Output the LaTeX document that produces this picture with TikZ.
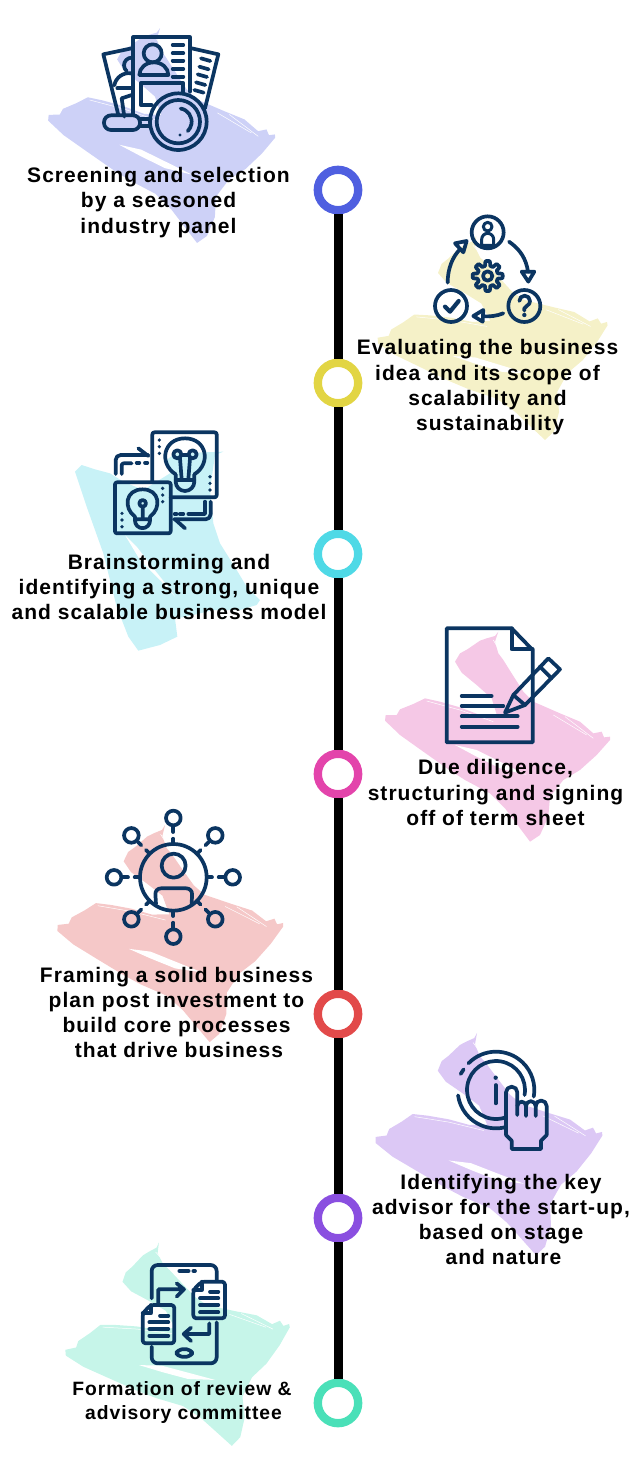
\documentclass[tikz,border=0pt]{standalone}
\usepackage{fontspec}
\setmainfont{Liberation Sans}[LetterSpace=5,BoldFont={Liberation Sans Bold}]
\definecolor{navy}{HTML}{0B3561}
\definecolor{bblue}{HTML}{CDD1F7}\definecolor{byellow}{HTML}{F5F1C8}\definecolor{bcyan}{HTML}{C8F2F7}
\definecolor{bpink}{HTML}{F5C8E6}\definecolor{bsalmon}{HTML}{F5C8C8}\definecolor{bpurple}{HTML}{DCC8F5}\definecolor{bmint}{HTML}{C6F5E9}
\definecolor{rblue}{HTML}{4F5FE0}\definecolor{ryellow}{HTML}{E2D544}\definecolor{rcyan}{HTML}{4FD9E6}
\definecolor{rmagenta}{HTML}{E344AB}\definecolor{rred}{HTML}{E24A4A}\definecolor{rpurple}{HTML}{8A4FE0}\definecolor{rmint}{HTML}{4AE0B8}
\tikzset{
 ring/.style={circle,draw=#1,line width=8.3pt,fill=white,minimum size=40.4pt,inner sep=0pt},
 rail/.style={black,line width=9pt},
 label/.style={font=\fontsize{21}{25.3}\selectfont\bfseries,align=center,inner sep=0pt,text=black},
 icon/.style={draw=navy,line width=3.7pt,line cap=round,line join=round},
 zoomed/.style={shift={#1},x=.33333pt,y=-.33333pt},
}
% a brush stroke: colour, x-vector, y-vector, origin (all in pixels, y downwards)
\newcommand{\brushstroke}[7]{%
 \begin{scope}[shift={(#6,#7)},x={(#2*.33333pt,-#3*.33333pt)},y={(#4*.33333pt,-#5*.33333pt)}]
 \fill[#1] (355,35)--(345,48)--(320,55)--(300,62)--(262,88)--(240,100)--(225,125)--(245,158)--(290,195)--(335,235)--(352,290)--(300,285)--(240,262)--(180,245)--(135,235)--(100,252)--(60,268)--(50,285)--(17,285)--(15,302)--(60,345)--(130,395)--(205,448)--(255,480)--(330,520)--(375,565)--(420,625)--(450,665)--(480,645)--(505,590)--(510,530)--(550,480)--(600,450)--(650,405)--(690,360)--(690,350)--(672,352)--(665,335)--(640,340)--(600,305)--(540,280)--(460,245)--(430,215)--(395,160)--(370,120)--(355,100)--(345,65)--cycle;
 \fill[white] (225,375)--(290,390)--(360,425)--(440,465)--(360,445)--(290,410)--cycle;
 \draw[white,line width=.5pt] (140,243)--(240,270)--(340,305) (520,285)--(620,345) (555,290)--(640,355) (340,60)--(380,130);
 \end{scope}}
\begin{document}
\begin{tikzpicture}[x=1pt,y=-1pt]
\useasboundingbox (0,0) rectangle (637,1474);
% brush strokes
\brushstroke{bblue}{1.0065}{-.0115}{.0244}{1.025}{40.65}{17.5}
\brushstroke{byellow}{1.0054}{-.1663}{.1755}{.9971}{355.3}{243.9}
\brushstroke{bpink}{1}{0}{0}{1}{380}{620}
\brushstroke{bsalmon}{.9985}{-.1102}{.0615}{1.0506}{46.2}{825.75}
\brushstroke{bpurple}{.9963}{-.1261}{.1306}{1.0771}{357.6}{1035.3}
\brushstroke{bmint}{.9782}{-.2118}{.2}{1.0}{40.8}{1256}
\begin{scope}[zoomed={(60,440)}]
 \fill[bcyan] (45,95)--(65,75)--(105,88)--(150,100)--(190,125)--(250,150)--(330,100)--(320,60)--(345,40)--(490,35)--(465,45)--(450,150)--(460,250)--(480,310)--(530,390)--(560,440)--(600,480)--(590,495)--(540,510)--(460,510)--(380,530)--(345,535)--(352,590)--(300,615)--(235,632)--(205,590)--(170,500)--(130,340)--(80,200)--cycle;
 \fill[white] (195,285)--(230,320)--(280,385)--(320,435)--(345,470)--(300,420)--(240,360)--cycle;
\end{scope}
% icon 1: screening
\begin{scope}[zoomed={(30,20)}]
 \draw[icon] (310,280)--(310,52)--(480,52)--(480,215);
 \draw[icon] (368,100) circle (27);
 \draw[icon] (328,165)--(415,165) arc (0:-180:43.5 and 38) --cycle;
 \draw[icon] (460,220)--(460,190)--(332,190)--(332,255)--(365,255);
 \foreach \y in {75,100,122,147,170}\draw[icon] (428,\y)--(460,\y);
 \draw[icon] (485,85)--(565,103)--(525,265);
 \foreach \a/\b in {505/115,500/140,495/163,490/187,485/210}\draw[icon] (\a+8,\b)--(\a+36,\b+8);
 \draw[icon] (305,85)--(220,103)--(265,285);
 \draw[icon] (305,113) arc (270:130:23);
 \draw[icon] (305,160) arc (-80:-170:45);
 \draw[icon] (262,205)--(305,205);
 \draw[icon] (275,235)--(305,225);
 \draw[icon] (283,290)--(275,235);
 \draw[icon] (445,305) circle (85);
 \draw[icon] (445,305) circle (65);
 \draw[icon] (445,305)++(-80:40) arc (-80:45:40);
 \fill[navy] (450,345) circle (5);
 \draw[icon,rounded corners=7pt] (330,286)--(222,286)--(222,330)--(330,330)--cycle;
 \draw[icon] (330,298)--(362,298) (330,318)--(360,318);
\end{scope}
% icon 2: evaluating
\begin{scope}[zoomed={(380,200)}]
 \draw[icon] (323,97) circle (48) (213,318) circle (48) (433,318) circle (48);
 \draw[icon,line width=3pt] (323,80) circle (13);
 \draw[icon,line width=3pt] (305,136)--(305,118) arc (180:360:18) --(341,136)--cycle;
 \draw[icon,line width=4.2pt] (195,320)--(210,335)--(236,303);
 \draw[icon] (418,303) arc (180:390:16) --(433,325)--(433,332);
 \fill[navy] (433,345) circle (6.5);
 \draw[icon] (323,228) circle (14);
 \draw[icon,shift={(323,228)}] plot[domain=0:360,samples=145] (\x:{38+7*max(-1,min(1,2.5*cos(8*\x)))}) --cycle;
 \draw[icon] (387,125) .. controls (420,148) and (438,175) .. (444,215);
 \draw[icon] (425,215)--(463,215)--(445,245)--cycle;
 \draw[icon] (203,248) .. controls (203,205) and (218,170) .. (240,148);
 \draw[icon] (260,123)--(225,130)--(250,157)--cycle;
 \draw[icon] (370,340) .. controls (350,348) and (330,350) .. (310,349);
 \draw[icon] (310,330)--(280,348)--(308,365)--cycle;
\end{scope}
% icon 3: brainstorming
\begin{scope}[zoomed={(70,420)}]
 \draw[icon,rounded corners=2pt] (247,185)--(247,37)--(440,37)--(440,232)--(302,232);
 \draw[icon,rounded corners=2pt] (135,187)--(302,187)--(302,340)--(135,340)--cycle;
 \foreach \p in {(268,60),(268,80),(268,100),(420,170),(420,190),(420,210),(278,205),(278,225),(278,245),(156,280),(156,300),(156,320)}\fill[navy] \p circle (5.5);
 \draw[icon] (317,163) .. controls (265,130) and (280,55) .. (345,55) .. controls (410,55) and (425,130) .. (373,163);
 \draw[icon] (317,163)--(317,185) arc (180:0:28) --(373,163);
 \draw[icon] (317,180)--(373,180);
 \draw[icon] (322,103) circle (12) (368,103) circle (12) (334,105)--(356,105) (330,115)--(335,178) (360,115)--(355,178);
 \draw[icon] (195,290) .. controls (160,265) and (165,208) .. (218,208) .. controls (270,208) and (275,265) .. (240,290);
 \draw[icon] (195,290)--(195,302) arc (180:0:22.5)--(240,290) (195,298)--(240,298);
 \draw[icon] (218,250) circle (10) (218,260)--(218,295);
 \draw[icon,rounded corners=5pt] (137,162)--(137,105)--(235,105);
 \draw[icon] (205,85)--(235,108);
 \draw[icon,rounded corners=2pt] (155,162)--(155,130)--(185,130);
 \draw[icon] (200,128)--(208,128) (225,128)--(232,128);
 \draw[icon,rounded corners=5pt] (422,245)--(422,298)--(312,298);
 \draw[icon] (345,325)--(315,298);
 \draw[icon] (405,245)--(405,282)--(355,282) (340,282)--(330,282) (320,282)--(314,282);
\end{scope}
% icon 4: due diligence
\begin{scope}[zoomed={(380,620)}]
 \draw[icon] (200,25)--(395,25)--(458,90)--(458,367)--(200,367)--cycle;
 \draw[icon] (395,25)--(395,88)--(458,88);
 \draw[icon] (245,228)--(335,228) (245,258)--(370,258) (245,289)--(413,289) (245,320)--(413,320);
 \draw[icon] (375,278)--(400,225)--(505,115)--(540,148)--(435,255)--cycle;
 \draw[icon] (480,140)--(515,175) (400,225)--(435,255);
\end{scope}
% icon 5: framing
\begin{scope}[zoomed={(50,800)}]
 \draw[icon] (370,232) circle (100);
 \draw[icon] (371,197) circle (36);
 \draw[icon,rounded corners=6pt] (318,312)--(315,265)--(427,265)--(425,312);
 \foreach \a in {0,45,...,315}{
  \draw[icon] (370,232)++(\a:100)--++(\a:16);
  \draw[icon] (370,232)++(\a:136)--++(\a:14);
  \draw[icon] (370,232)++(\a:178) circle (22);
 }
\end{scope}
% icon 6: identifying
\begin{scope}[zoomed={(370,1030)}]
 \draw[icon] (378,180)++(-136:115) arc (-136:10:115);
 \draw[icon] (272,132)--(281,118);
 \draw[icon] (378,180)++(172:115) arc (172:75:115);
 \draw[icon] (378,180)++(10:87) arc (10:-288:87);
 \fill[navy] (377,143) circle (6.5);
 \draw[icon] (377,165)--(377,220);
 \draw[icon] (408,315)--(408,187) arc (180:360:17)--(442,255);
 \draw[icon] (442,228) arc (180:360:13)--(468,258);
 \draw[icon] (468,228) arc (180:360:14.5)--(497,258);
 \draw[icon] (497,228) arc (180:360:16.5)--(530,315)--(513,332)--(513,357)--(425,357)--(425,332)--(408,315);
\end{scope}
% icon 7: formation
\begin{scope}[zoomed={(60,1235)}]
 \draw[icon,rounded corners=6pt] (275,190)--(275,90)--(470,90)--(470,135);
 \draw[icon,rounded corners=6pt] (470,262)--(470,385)--(275,385)--(275,335);
 \draw[icon] (358,108)--(386,108) (400,108)--(405,108);
 \draw[icon,rounded corners=5pt] (350,343)--(396,343)--(396,365)--(350,365)--cycle;
 \draw[icon] (295,205)--(295,163)--(370,163) (350,145)--(372,163)--(350,185);
 \draw[icon] (448,265)--(448,297)--(373,297) (393,278)--(371,297)--(393,318);
 \draw[icon,rounded corners=3pt] (425,140)--(495,140)--(495,250)--(400,250)--(400,165)--cycle;
 \draw[icon] (425,140)--(425,165)--(400,165);
 \draw[icon] (450,170)--(475,170) (420,190)--(475,190) (420,210)--(475,210) (420,232)--(475,232);
 \draw[icon,rounded corners=3pt] (272,210)--(343,210)--(343,325)--(248,325)--(248,235)--cycle;
 \draw[icon] (272,210)--(272,235)--(248,235);
 \draw[icon] (300,242)--(325,242) (268,262)--(325,262) (268,282)--(325,282) (268,302)--(325,302);
\end{scope}
% labels
\node[label] (t1) at (158.5,202.5) {Screening and selection\\by a seasoned\\industry panel};
\node[label] (t2) at (487.5,387.5) {Evaluating the business\\idea and its scope of\\scalability and\\\hspace{5pt}sustainability};
\node[label] (t3) at (169,587) {Brainstorming and\\identifying a strong, unique\\and scalable business model};
\node[label] (t4) at (495.5,792.5) {Due diligence,\\structuring and signing\\off of term sheet};
\node[label] (t5) at (176.5,1012.5) {Framing a solid business\\plan post investment to\\build core processes\\\hspace{5pt}that drive business};
\node[label] (t6) at (501,1219.5) {Identifying the key\\advisor for the start-up,\\based on stage\\\hspace{5pt}and nature};
\node[label,font=\fontsize{19.3}{24}\selectfont\bfseries] (t7) at (182,1402.5) {Formation of review \&\\\hspace{3pt}advisory committee};
% timeline
\node[ring=rblue] (r1) at (338,190) {};
\node[ring=ryellow] (r2) at (338,383) {};
\node[ring=rcyan] (r3) at (338,554) {};
\node[ring=rmagenta] (r4) at (338,774) {};
\node[ring=rred] (r5) at (338,1014) {};
\node[ring=rpurple] (r6) at (338,1218) {};
\node[ring=rmint] (r7) at (338,1403) {};
\foreach \a/\b in {r1/r2,r2/r3,r3/r4,r4/r5,r5/r6,r6/r7}\draw[rail] (\a)--(\b);
\end{tikzpicture}
\end{document}
